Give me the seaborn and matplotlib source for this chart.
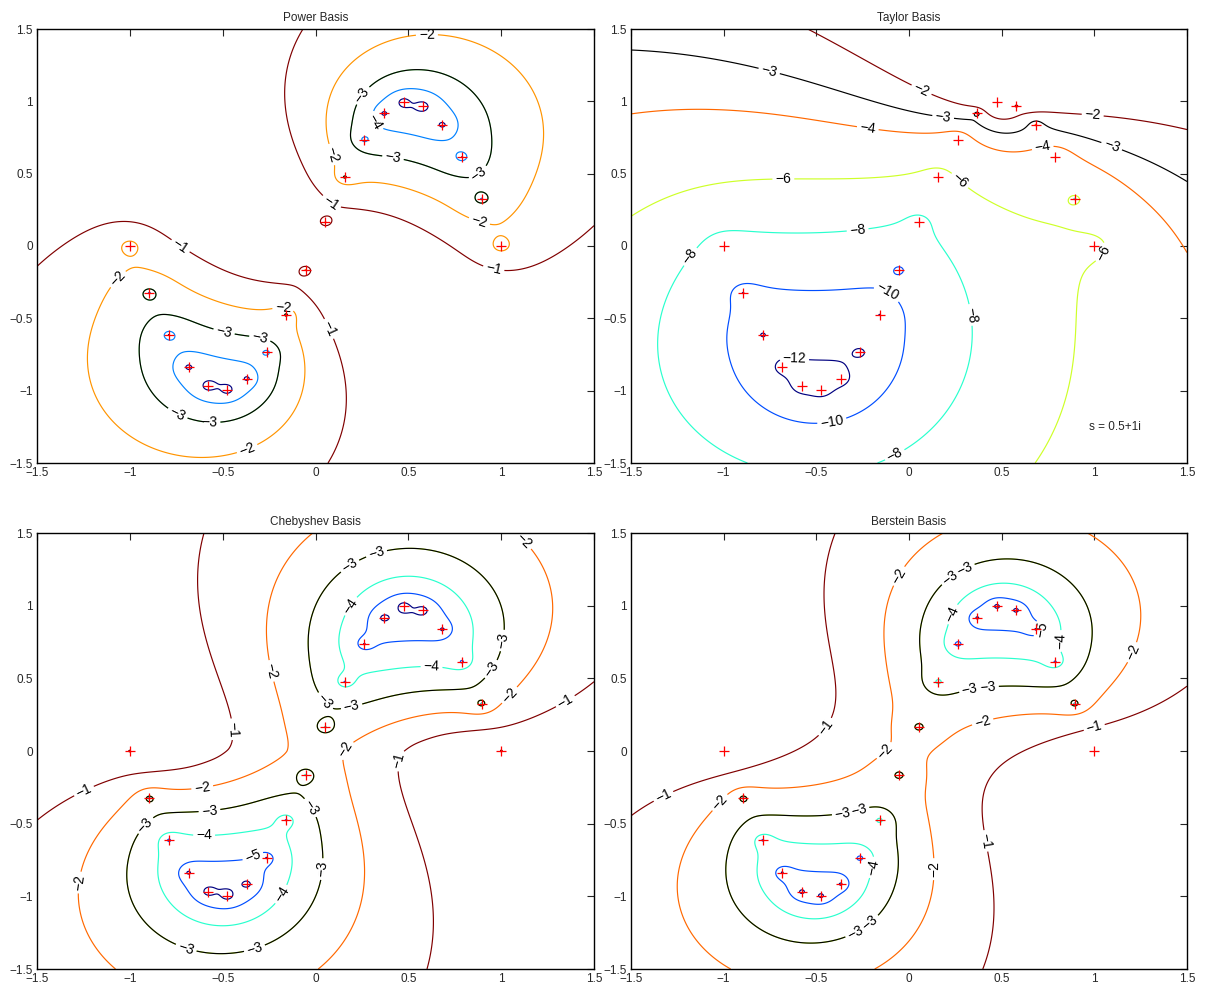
import numpy as np
import pandas as pd
import matplotlib
matplotlib.use("Agg")
import matplotlib.pyplot as plt
import seaborn as sns
from math import comb

# Polynomial roots (real and imaginary parts)
root_re = [-1.000, -0.895, -0.789, -0.684, -0.579, -0.474, -0.368, -0.263, -0.158, -0.053,
           0.053, 0.158, 0.263, 0.368, 0.474, 0.579, 0.684, 0.789, 0.895, 1.000]
root_im = [0.000, -0.325, -0.614, -0.837, -0.969, -0.997, -0.916, -0.736, -0.476, -0.165,
           0.165, 0.476, 0.736, 0.916, 0.997, 0.969, 0.837, 0.614, 0.325, 0.000]

titles = ["Power Basis", "Taylor Basis", "Chebyshev Basis", "Berstein Basis"]
taylor_center = 0.5 + 1.0j
levels_power = [-5, -4, -3, -2, -1]
levels_taylor = [-12, -10, -8, -6, -4, -2]
levels_cheb = [-6, -5, -4, -3, -2, -1]
levels_bern = [-6, -5, -4, -3, -2, -1]
highlight_level = -3
tick_vals = [-1.5, -1, -0.5, 0, 0.5, 1, 1.5]
tick_text = ["\u22121.5", "\u22121", "\u22120.5", "0", "0.5", "1", "1.5"]

# Where the contour labels are placed on each panel (per level)
label_spots = [
    {-1: [(0.083, 0.298), (-0.73, -0.005), (0.958, -0.167), (0.072, -0.573)],
     -2: [(0.600, 1.461), (0.083, 0.630), (0.881, 0.165), (-1.064, -0.229),
          (-0.174, -0.435), (-0.368, -1.402)],
     -3: [(0.252, 1.042), (0.416, 0.600), (0.877, 0.504), (-0.494, -0.600),
          (-0.300, -0.641), (-0.745, -1.164), (-0.571, -1.221)],
     -4: [(0.319, 0.859)]},
    {-2: [(0.068, 1.081), (0.991, 0.902)],
     -3: [(-0.755, 1.207), (0.184, 0.889), (1.094, 0.692)],
     -4: [(-0.223, 0.809), (0.722, 0.676)],
     -6: [(-0.678, 0.463), (0.271, 0.447), (1.045, -0.046)],
     -8: [(-0.277, 0.108), (-1.181, -0.073), (0.335, -0.476), (-0.077, -1.443)],
     -10: [(-0.116, -0.321), (-0.416, -1.214)],
     -12: [(-0.619, -0.779)]},
    {-1: [(1.345, 0.344), (-0.455, 0.149), (0.459, -0.069), (-1.249, -0.270)],
     -2: [(1.123, 1.448), (-0.242, 0.550), (1.045, 0.385), (0.165, 0.005),
          (-0.610, -0.252), (-1.272, -0.905)],
     -3: [(0.329, 1.356), (0.184, 1.276), (1.007, 0.760), (0.949, 0.561),
          (0.048, 0.339), (0.194, 0.309), (-0.571, -0.412), (-0.025, -0.389),
          (-0.919, -0.508), (0.039, -0.813), (-0.697, -1.356), (-0.329, -1.356)],
     -4: [(0.184, 1.001), (0.625, 0.577), (-0.600, -0.584), (-0.180, -0.989)],
     -5: [(-0.339, -0.721)]},
    {-1: [(-0.445, 0.160), (1.0, 0.160), (-1.326, -0.309), (0.416, -0.618)],
     -2: [(-0.052, 1.202), (1.210, 0.676), (0.397, 0.202), (-0.130, 0.0),
          (-1.020, -0.355), (0.141, -0.813)],
     -3: [(0.223, 1.191), (0.300, 1.255), (0.329, 0.417), (0.426, 0.440),
          (-0.358, -0.424), (-0.271, -0.408), (-0.290, -1.248), (-0.207, -1.186)],
     -4: [(0.238, 0.939), (0.823, 0.756), (-0.194, -0.802)],
     -5: [(0.707, 0.836)]},
]

roots = np.array(root_re) + 1j * np.array(root_im)
n = len(roots)

gx = np.linspace(-1.5, 1.5, 601)
X, Y = np.meshgrid(gx, gx)
Z = X + 1j * Y

# |p(z)| evaluated from the factored form
absp = np.ones_like(X)
for r in roots:
    absp *= np.abs(Z - r)


def power_field():
    a = np.poly(roots)[::-1]
    den = np.zeros_like(X)
    az = np.abs(Z)
    for k, c in enumerate(a):
        den += np.abs(c) * az ** k
    return np.log10(absp / den)


def taylor_field(s):
    b = np.poly(roots - s)[::-1]
    den = np.zeros_like(X)
    aw = np.abs(Z - s)
    for k, c in enumerate(b):
        den += np.abs(c) * aw ** k
    return np.log10(absp / den)


def cheb_field():
    a = np.poly(roots)[::-1]
    c = np.polynomial.chebyshev.poly2cheb(a)
    Ts = [np.ones_like(Z), Z.copy()]
    for k in range(2, n + 1):
        Ts.append(2 * Z * Ts[-1] - Ts[-2])
    den = np.zeros_like(X)
    for k, ck in enumerate(c):
        den += np.abs(ck) * np.abs(Ts[k])
    return np.log10(absp / den)


def bern_field():
    t_roots = (roots + 1) / 2
    a = np.poly(t_roots)[::-1]  # ascending powers of t
    c = np.zeros(n + 1, dtype=complex)
    for k in range(n + 1):
        c[k] = sum(comb(k, j) / comb(n, j) * a[j] for j in range(k + 1))
    T = (Z + 1) / 2
    den = np.zeros_like(X)
    for k in range(n + 1):
        den += np.abs(c[k]) * comb(n, k) * np.abs(T) ** k * np.abs(1 - T) ** (n - k)
    return np.log10((absp / 2 ** n) / den)


fields = [power_field(), taylor_field(taylor_center), cheb_field(), bern_field()]
level_sets = [levels_power, levels_taylor, levels_cheb, levels_bern]

sns.set_style("white")
plt.rcParams["font.family"] = ["Liberation Sans", "DejaVu Sans"]
plt.rcParams["axes.unicode_minus"] = True
plt.rcParams["contour.negative_linestyle"] = "solid"

fig = plt.figure(figsize=(12.09, 9.92), dpi=100)
positions = [
    [37 / 1209, 1 - 463 / 992, 557 / 1209, 434 / 992],
    [631 / 1209, 1 - 463 / 992, 556 / 1209, 434 / 992],
    [37 / 1209, 1 - 969 / 992, 557 / 1209, 436 / 992],
    [631 / 1209, 1 - 969 / 992, 556 / 1209, 436 / 992],
]

roots_df = pd.DataFrame({"re": root_re, "im": root_im})


def fmt(v):
    return f"{v:g}".replace("-", "\u2212")


LW = 0.85
LABEL_FS = 10

for i in range(4):
    ax = fig.add_axes(positions[i])
    F = fields[i]
    lv = level_sets[i]
    cols = plt.cm.jet(np.linspace(0, 1, len(lv)))
    spots = label_spots[i]
    for level, col in zip(lv, cols):
        cs = ax.contour(X, Y, F, levels=[level], colors=[col], linewidths=LW)
        if level in spots:
            # the highlighted level gets its visible text from the black set below;
            # here only the gap in the coloured line is cut
            txt_col = [(0, 0, 0, 0)] if level == highlight_level else "k"
            ax.clabel(cs, fmt=fmt, fontsize=LABEL_FS, colors=txt_col, inline=True,
                      inline_spacing=3, manual=spots[level])
    cb = ax.contour(X, Y, F, levels=[highlight_level], colors="k", linewidths=LW)
    if highlight_level in spots:
        ax.clabel(cb, fmt=fmt, fontsize=LABEL_FS, colors="k", inline=True,
                  inline_spacing=3, manual=spots[highlight_level])
    sns.scatterplot(data=roots_df, x="re", y="im", marker="+", color="red",
                    s=60, linewidth=0.9, ax=ax, zorder=5)
    ax.set_xlim(-1.5, 1.5)
    ax.set_ylim(-1.5, 1.5)
    ax.set_xticks(tick_vals)
    ax.set_yticks(tick_vals)
    ax.set_xticklabels(tick_text)
    ax.set_yticklabels(tick_text)
    ax.set_xlabel("")
    ax.set_ylabel("")
    ax.tick_params(direction="in", length=5, width=0.8, labelsize=8.5,
                   top=True, right=True, pad=3)
    for sp in ax.spines.values():
        sp.set_visible(True)
        sp.set_color("black")
        sp.set_linewidth(1.0)
    ax.set_title(titles[i], fontsize=8.5, pad=6)
    if i == 1:
        ax.text(0.97, -1.27, "s = 0.5+1i", fontsize=8.5)

fig.savefig("out.png", dpi=100, facecolor="white")
